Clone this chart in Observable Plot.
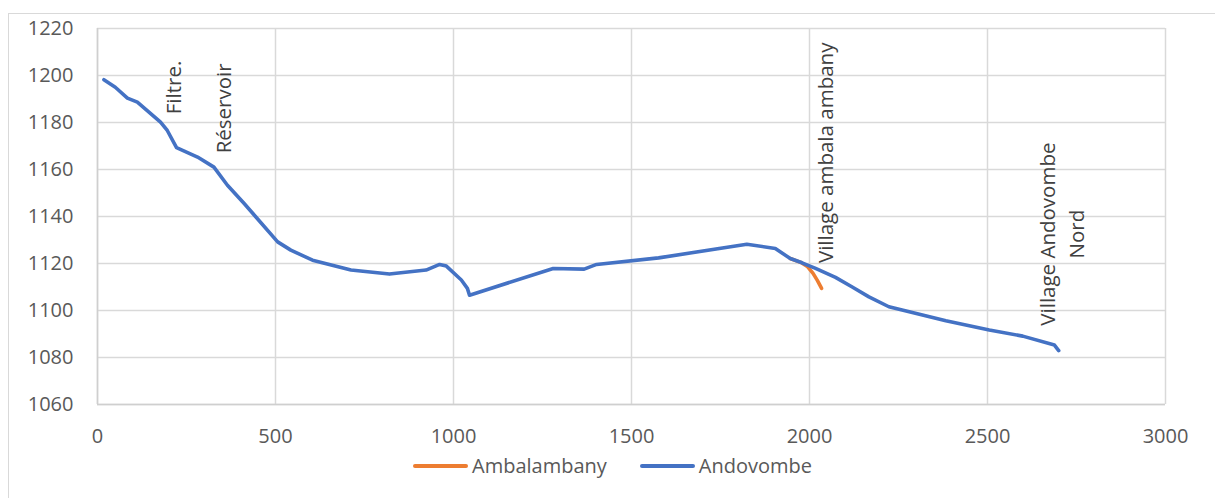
<!DOCTYPE html>
<html><head><meta charset="utf-8">
<script src="https://cdn.jsdelivr.net/npm/d3@7"></script>
<script src="https://cdn.jsdelivr.net/npm/@observablehq/plot@0.6"></script>
<style>
body{margin:0;background:#fff;font-family:"Open Sans",sans-serif;}
#wrap{position:relative;width:1215px;height:498px;overflow:hidden;}
#frame{position:absolute;left:8px;top:13px;width:1300px;height:600px;border-left:1.5px solid #d9d9d9;border-top:1.5px solid #d9d9d9;}
#chart{position:absolute;left:0;top:0;}
#legend{position:absolute;left:413px;top:452px;display:flex;align-items:center;font-size:20px;color:#595959;white-space:nowrap;}
#legend .sw{display:inline-block;width:55px;height:4px;border-radius:2px;margin-right:4px;}
#legend .item{display:flex;align-items:center;margin-right:33px;}
</style>
</head><body>
<div id="wrap"><div id="frame"></div><div id="chart"></div><div id="legend"></div></div>
<script>
// Data
const seriesNames = ["Ambalambany", "Andovombe"];
const seriesColors = ["#ED7D31", "#4472C4"];
const ambalambanyX = [1946, 1975, 1995, 2010, 2022, 2034];
const ambalambanyY = [1122.1, 1120.5, 1118.6, 1115.8, 1112.8, 1109.4];
const andovombeX = [18, 50, 84, 112, 177, 196, 222, 281, 327, 365, 412, 445, 506, 543, 604, 712, 820, 923, 961, 980, 1022, 1039, 1045, 1280, 1367, 1402, 1576, 1824, 1904, 1946, 1979, 2017, 2073, 2120, 2167, 2223, 2383, 2505, 2599, 2688, 2700];
const andovombeY = [1198.2, 1195, 1190.4, 1188.7, 1180.2, 1176.6, 1169.3, 1165.3, 1161, 1153.3, 1145.5, 1139.8, 1129.2, 1125.7, 1121.4, 1117.2, 1115.5, 1117.2, 1119.6, 1118.9, 1113, 1109.4, 1106.5, 1117.9, 1117.6, 1119.6, 1122.4, 1128.2, 1126.4, 1122.1, 1120.3, 1117.9, 1114.1, 1110, 1105.8, 1101.6, 1095.6, 1091.7, 1089.1, 1085.3, 1082.9];
const xTicks = [0, 500, 1000, 1500, 2000, 2500, 3000];
const yTicks = [1060, 1080, 1100, 1120, 1140, 1160, 1180, 1200, 1220];
const annotationLabels = ["Filtre.", "Réservoir", "Village ambala ambany", "Village Andovombe\nNord"];
const annotationX = [208, 349, 2040, 2704];
const annotationY = [1194.9, 1186, 1167.1, 1132.5];

const amb = ambalambanyX.map((x, i) => ({x, y: ambalambanyY[i]}));
const and = andovombeX.map((x, i) => ({x, y: andovombeY[i]}));
const ann = annotationLabels.map((t, i) => ({t, x: annotationX[i], y: annotationY[i]}));

const chart = Plot.plot({
  width: 1215, height: 460,
  marginLeft: 97, marginRight: 50, marginTop: 28, marginBottom: 56,
  style: {fontFamily: "Open Sans", fontSize: "20px", color: "#595959", background: "transparent", overflow: "visible"},
  x: {domain: [0, 3000]},
  y: {domain: [1060, 1220]},
  marks: [
    Plot.gridX(xTicks, {stroke: "#d9d9d9", strokeOpacity: 1, strokeWidth: 1.5}),
    Plot.gridY(yTicks, {stroke: "#d9d9d9", strokeOpacity: 1, strokeWidth: 1.5}),
    Plot.ruleY([1060], {stroke: "#cfcfcf", strokeWidth: 1.5}),
    Plot.ruleX([0], {stroke: "#cfcfcf", strokeWidth: 1.5}),
    Plot.axisX(xTicks, {tickSize: 0, tickPadding: 24, label: null, tickFormat: d => String(d), fontSize: 20, fill: "#595959"}),
    Plot.axisY(yTicks, {tickSize: 0, tickPadding: 24, label: null, tickFormat: d => String(d), fontSize: 20, fill: "#595959"}),
    Plot.line(amb, {x: "x", y: "y", stroke: seriesColors[0], strokeWidth: 3.6, strokeLinecap: "round", strokeLinejoin: "round"}),
    Plot.line(and, {x: "x", y: "y", stroke: seriesColors[1], strokeWidth: 3.6, strokeLinecap: "round", strokeLinejoin: "round"}),
    Plot.text(ann, {x: "x", y: "y", text: "t", rotate: -90, textAnchor: "middle", lineAnchor: "middle", lineHeight: 1.4, fontSize: 20.5, fill: "#404040"})
  ]
});
document.getElementById("chart").appendChild(chart);

const leg = document.getElementById("legend");
seriesNames.forEach((n, i) => {
  const it = document.createElement("div");
  it.className = "item";
  const sw = document.createElement("span");
  sw.className = "sw";
  sw.style.background = seriesColors[i];
  it.appendChild(sw);
  it.appendChild(document.createTextNode(n));
  leg.appendChild(it);
});
</script>
</body></html>
